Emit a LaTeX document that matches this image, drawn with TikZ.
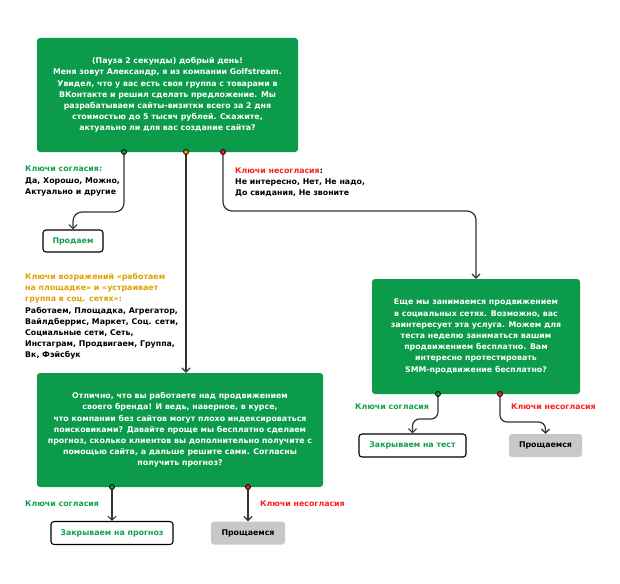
\documentclass[tikz,border=0pt]{standalone}
\usepackage{fontspec}
\setmainfont{DejaVu Sans}
\usetikzlibrary{arrows.meta}
\definecolor{boxgreen}{HTML}{0B9B4A}
\definecolor{kgreen}{HTML}{10A04E}
\definecolor{korange}{HTML}{E0A000}
\definecolor{kred}{HTML}{FF1E1E}
\definecolor{kgray}{HTML}{C8C8C8}
\definecolor{lineg}{HTML}{333333}
\tikzset{
  txt/.style={font=\fontsize{7.85}{11.2}\selectfont\bfseries},
  bigbox/.style={txt, fill=boxgreen, text=white, rounded corners=3pt, align=center, inner sep=0pt},
  whitebox/.style={txt, draw=black, line width=1.1pt, fill=white, rounded corners=3pt, text=kgreen, inner sep=0pt},
  graybox/.style={txt, fill=kgray, rounded corners=3pt, text=black, inner sep=0pt},
  lbl/.style={txt, align=left, anchor=west, inner sep=0pt},
  conn/.style={draw=lineg, line width=1.25pt, rounded corners=9pt, -{Straight Barb[length=4pt,width=8pt,line width=1.2pt]}},
  dot/.style={circle, draw=black, line width=0.8pt, minimum size=5pt, inner sep=0pt},
}
\begin{document}
\begin{tikzpicture}[x=1pt,y=-1pt]
\useasboundingbox (0,0) rectangle (620,583);
% main boxes
\node[bigbox, minimum width=261pt, minimum height=114pt] (b1) at (167.5,95) {(Пауза 2 секунды) добрый день!\\Меня зовут Александр, я из компании Golfstream.\\Увидел, что у вас есть своя группа с товарами в\\ВКонтакте и решил сделать предложение. Мы\\разрабатываем сайты-визитки всего за 2 дня\\стоимостью до 5 тысяч рублей. Скажите,\\актуально ли для вас создание сайта?};
\node[bigbox, minimum width=286pt, minimum height=114pt] (b2) at (180,430) {Отлично, что вы работаете над продвижением\\своего бренда! И ведь, наверное, в курсе,\\что компании без сайтов могут плохо индексироваться\\поисковиками? Давайте проще мы бесплатно сделаем\\прогноз, сколько клиентов вы дополнительно получите с\\помощью сайта, а дальше решите сами. Согласны\\получить прогноз?};
\node[bigbox, minimum width=208pt, minimum height=115pt] (b3) at (476,336.5) {Еще мы занимаемся продвижением\\в социальных сетях. Возможно, вас\\заинтересует эта услуга. Можем для\\теста неделю заниматься вашим\\продвижением бесплатно. Вам\\интересно протестировать\\SMM-продвижение бесплатно?};
% small boxes
\node[whitebox, minimum width=60pt, minimum height=22pt] (p1) at (73,241) {Продаем};
\node[whitebox, minimum width=122pt, minimum height=23pt] (z1) at (112,533) {Закрываем на прогноз};
\node[graybox, minimum width=74pt, minimum height=23pt] (q1) at (248,533) {Прощаемся};
\node[whitebox, minimum width=107pt, minimum height=23pt] (z2) at (412.5,445.5) {Закрываем на тест};
\node[graybox, minimum width=73pt, minimum height=23pt] (q2) at (545.5,445.5) {Прощаемся};
% labels
\node[lbl] (l1) at (25,181) {\textcolor{kgreen}{Ключи согласия:}\\Да, Хорошо, Можно,\\Актуально и другие};
\node[lbl] (l2) at (235,182) {\textcolor{kred}{Ключи несогласия}:\\Не интересно, Нет, Не надо,\\До свидания, Не звоните};
\node[lbl] (l3) at (25,316.5) {\textcolor{korange}{Ключи возражений «работаем}\\\textcolor{korange}{на площадке» и «устраивает}\\\textcolor{korange}{группа в соц. сетях»:}\\Работаем, Площадка, Агрегатор,\\Вайлдберрис, Маркет, Соц. сети,\\Социальные сети, Сеть,\\Инстаграм, Продвигаем, Группа,\\Вк, Фэйсбук};
\node[lbl, text=kgreen] (l4) at (25,504) {Ключи согласия};
\node[lbl, text=kred] (l5) at (260,504) {Ключи несогласия};
\node[lbl, text=kgreen] (l6) at (355,407) {Ключи согласия};
\node[lbl, text=kred] (l7) at (511,407) {Ключи несогласия};
% dot positions
\coordinate (d1) at (124,152);
\coordinate (d2) at (186,152);
\coordinate (d3) at (223,152);
\coordinate (d4) at (112,487);
\coordinate (d5) at (248,487);
\coordinate (d6) at (438,394);
\coordinate (d7) at (500,394);
% connectors
\draw[conn] (d1) -- (124,212) -- (73,212) -- (p1.north);
\draw[conn, rounded corners=0pt] (d2) -- (b2.north -| d2);
\draw[conn] (d3) -- (223,211) -- (476,211) -- (b3.north);
\draw[conn, rounded corners=0pt] (d4) -- (z1.north);
\draw[conn, rounded corners=0pt] (d5) -- (q1.north);
\draw[conn, rounded corners=7pt] (d6) -- (438,419) -- (412.5,419) -- (z2.north);
\draw[conn, rounded corners=7pt] (d7) -- (500,422) -- (545.5,422) -- (q2.north);
% dots
\node[dot, fill=boxgreen] (g1) at (d1) {};
\node[dot, fill=korange] (o1) at (d2) {};
\node[dot, fill=kred] (r1) at (d3) {};
\node[dot, fill=boxgreen] (g2) at (d4) {};
\node[dot, fill=kred] (r2) at (d5) {};
\node[dot, fill=boxgreen] (g3) at (d6) {};
\node[dot, fill=kred] (r3) at (d7) {};
\end{tikzpicture}
\end{document}
